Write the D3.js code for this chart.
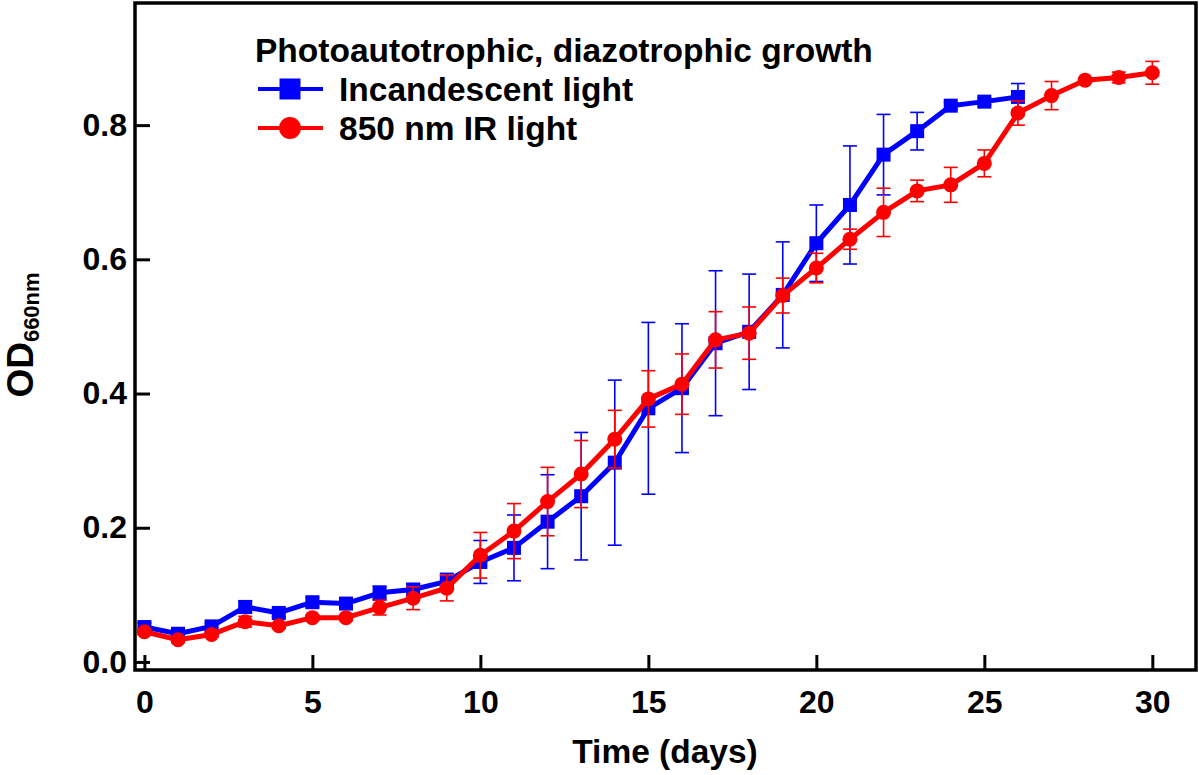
<!DOCTYPE html>
<html lang="en">
	<head>
		<meta charset="utf-8">
		<title>Photoautotrophic, diazotrophic growth</title>
		<script type="text/javascript" src="https://cdn.jsdelivr.net/npm/d3@7"></script>
		<style type="text/css">
			body {
				margin: 0;
				background: white;
			}
			svg text {
				font-family: "Liberation Sans", Arial, sans-serif;
				font-weight: bold;
				fill: black;
			}
		</style>
	</head>
	<body>
		<script type="text/javascript">

			//Data
			var days = [0, 1, 2, 3, 4, 5, 6, 7, 8, 9, 10, 11, 12, 13, 14, 15,
						16, 17, 18, 19, 20, 21, 22, 23, 24, 25, 26, 27, 28, 29, 30];

			var incandescent = [0.052, 0.042, 0.053, 0.082, 0.073, 0.089, 0.087, 0.103, 0.108, 0.120,
								0.149, 0.170, 0.209, 0.247, 0.297, 0.378, 0.408, 0.475, 0.492, 0.547,
								0.624, 0.681, 0.756, 0.791, 0.829, 0.835, 0.842];
			var incandescentErr = [0.006, 0.004, 0.005, 0.009, 0.006, 0.007, 0.005, 0.010, 0.008, 0.012,
								0.032, 0.049, 0.070, 0.095, 0.123, 0.128, 0.096, 0.108, 0.086, 0.079,
								0.057, 0.088, 0.060, 0.028, 0.005, 0.005, 0.020];

			var infrared = [0.045, 0.033, 0.041, 0.060, 0.054, 0.066, 0.066, 0.081, 0.095, 0.110,
							0.159, 0.195, 0.239, 0.280, 0.332, 0.392, 0.414, 0.480, 0.490, 0.546,
							0.587, 0.630, 0.670, 0.702, 0.711, 0.743, 0.818, 0.844, 0.867, 0.871, 0.878];
			var infraredErr = [0.004, 0.004, 0.004, 0.008, 0.004, 0.004, 0.004, 0.011, 0.017, 0.019,
							0.034, 0.041, 0.051, 0.050, 0.043, 0.042, 0.045, 0.042, 0.039, 0.026,
							0.022, 0.015, 0.036, 0.016, 0.026, 0.020, 0.018, 0.021, 0.003, 0.008, 0.017];

			var xTicks = [0, 5, 10, 15, 20, 25, 30];
			var yTicks = [0.0, 0.2, 0.4, 0.6, 0.8];

			var legendTitle = "Photoautotrophic, diazotrophic growth";
			var seriesNames = ["Incandescent light", "850 nm IR light"];

			//Size and plot box
			var w = 1199;
			var h = 775;
			var boxLeft = 135, boxRight = 1196, boxTop = 3, boxBottom = 670;

			var xScale = d3.scaleLinear()
							.domain([-0.28, 31.3])
							.range([boxLeft, boxRight]);

			var yScale = d3.scaleLinear()
							.domain([-0.012, 0.982])
							.range([boxBottom, boxTop]);

			var svg = d3.select("body")
						.append("svg")
						.attr("width", w)
						.attr("height", h);

			//Axes with inward ticks
			var yAxis = d3.axisLeft(yScale)
						.tickValues(yTicks)
						.tickFormat(d3.format(".1f"))
						.tickSizeInner(-15)
						.tickSizeOuter(0)
						.tickPadding(8);

			var xAxis = d3.axisBottom(xScale)
						.tickValues(xTicks)
						.tickSizeInner(-15)
						.tickSizeOuter(0)
						.tickPadding(20);

			var gy = svg.append("g")
						.attr("transform", "translate(" + boxLeft + ",0)")
						.call(yAxis);
			var gx = svg.append("g")
						.attr("transform", "translate(0," + boxBottom + ")")
						.call(xAxis);

			[gx, gy].forEach(function(g) {
				g.select(".domain").remove();
				g.selectAll(".tick line")
				 .attr("stroke", "black")
				 .attr("stroke-width", 3);
				g.selectAll(".tick text")
				 .attr("font-size", "32px")
				 .attr("fill", "black");
			});

			//Frame
			svg.append("rect")
			   .attr("x", boxLeft)
			   .attr("y", boxTop)
			   .attr("width", boxRight - boxLeft)
			   .attr("height", boxBottom - boxTop)
			   .attr("fill", "none")
			   .attr("stroke", "black")
			   .attr("stroke-width", 3.5);

			//Axis titles
			svg.append("text")
			   .attr("x", 665)
			   .attr("y", 763)
			   .attr("text-anchor", "middle")
			   .attr("font-size", "33.5px")
			   .text("Time (days)");

			var yLab = svg.append("text")
			   .attr("transform", "translate(33,335) rotate(-90)")
			   .attr("text-anchor", "middle")
			   .attr("font-size", "37px");
			yLab.append("tspan").text("OD");
			yLab.append("tspan")
				.attr("font-size", "22px")
				.attr("dy", "0.25em")
				.text("660nm");

			//Series
			var series = [
				{ name: seriesNames[0], values: incandescent, err: incandescentErr, color: "#0000ff", shape: "square" },
				{ name: seriesNames[1], values: infrared, err: infraredErr, color: "#ff0000", shape: "circle" }
			];

			var line = d3.line()
						.x(function(d) { return xScale(d.x); })
						.y(function(d) { return yScale(d.y); });

			function drawMarker(g, shape, color, cx, cy, size) {
				if (shape === "square") {
					g.append("rect")
					 .attr("x", cx - size / 2)
					 .attr("y", cy - size / 2)
					 .attr("width", size)
					 .attr("height", size)
					 .attr("fill", color);
				} else {
					g.append("circle")
					 .attr("cx", cx)
					 .attr("cy", cy)
					 .attr("r", size / 2 + 0.5)
					 .attr("fill", color);
				}
			}

			series.forEach(function(s) {
				var pts = s.values.map(function(v, i) {
					return { x: days[i], y: v, e: s.err[i] };
				});
				var g = svg.append("g");

				//Error bars
				var eb = g.selectAll("g.err")
						  .data(pts)
						  .enter()
						  .append("g")
						  .attr("stroke", s.color)
						  .attr("stroke-width", 1.6);
				eb.append("line")
				  .attr("x1", function(d) { return xScale(d.x); })
				  .attr("x2", function(d) { return xScale(d.x); })
				  .attr("y1", function(d) { return yScale(d.y - d.e); })
				  .attr("y2", function(d) { return yScale(d.y + d.e); });
				[-1, 1].forEach(function(sign) {
					eb.append("line")
					  .attr("x1", function(d) { return xScale(d.x) - 7; })
					  .attr("x2", function(d) { return xScale(d.x) + 7; })
					  .attr("y1", function(d) { return yScale(d.y + sign * d.e); })
					  .attr("y2", function(d) { return yScale(d.y + sign * d.e); });
				});

				g.append("path")
				 .datum(pts)
				 .attr("d", line)
				 .attr("fill", "none")
				 .attr("stroke", s.color)
				 .attr("stroke-width", 5)
				 .attr("stroke-linejoin", "round");

				pts.forEach(function(d) {
					drawMarker(g, s.shape, s.color, xScale(d.x), yScale(d.y), 14);
				});
			});

			//Legend
			var legend = svg.append("g");
			legend.append("text")
				  .attr("x", 255)
				  .attr("y", 62)
				  .attr("font-size", "33.5px")
				  .text(legendTitle);

			series.forEach(function(s, i) {
				var cy = 89 + i * 39;
				legend.append("line")
					  .attr("x1", 258)
					  .attr("x2", 323)
					  .attr("y1", cy)
					  .attr("y2", cy)
					  .attr("stroke", s.color)
					  .attr("stroke-width", 4);
				drawMarker(legend, s.shape, s.color, 290, cy, 21);
				legend.append("text")
					  .attr("x", 339)
					  .attr("y", cy + 12)
					  .attr("font-size", "33.5px")
					  .text(s.name);
			});

		</script>
	</body>
</html>
